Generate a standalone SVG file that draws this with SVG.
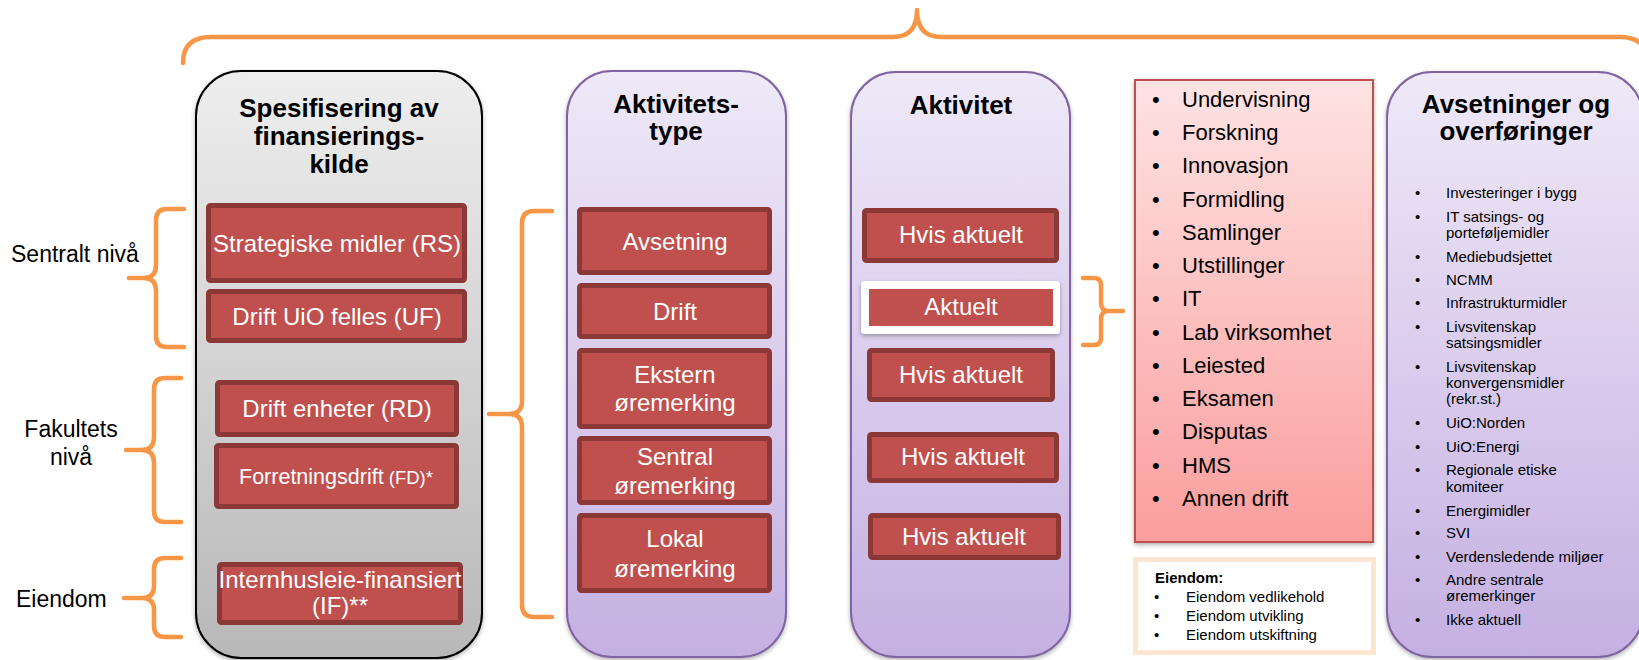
<svg xmlns="http://www.w3.org/2000/svg" width="1639" height="660" viewBox="0 0 1639 660">
<defs>
<linearGradient id="gGray" x1="0" y1="0" x2="0" y2="1"><stop offset="0" stop-color="#eeeeee"/><stop offset="1" stop-color="#b8b8b8"/></linearGradient>
<linearGradient id="gPurple" x1="0" y1="0" x2="0" y2="1"><stop offset="0" stop-color="#efe9f8"/><stop offset="1" stop-color="#c5b0e2"/></linearGradient>
<linearGradient id="gPink" x1="0" y1="0" x2="0" y2="1"><stop offset="0" stop-color="#fee3e3"/><stop offset="1" stop-color="#fa9e9d"/></linearGradient>
<filter id="sh" x="-10%" y="-10%" width="120%" height="120%"><feDropShadow dx="0" dy="2" stdDeviation="2" flood-color="#000" flood-opacity="0.3"/></filter>
<style>
.brace{fill:none;stroke:#f79646;stroke-width:4.5;stroke-linecap:round;stroke-linejoin:round}
.col1{fill:url(#gGray);stroke:#000;stroke-width:2}
.colp{fill:url(#gPurple);stroke:#8064a2;stroke-width:2}
.rb{fill:#c0504d;stroke:#8c3836;stroke-width:5}
.rt{font-family:"Liberation Sans",Arial,sans-serif;font-size:24px;fill:#fff;text-anchor:middle}
.title{font-family:"Liberation Sans",Arial,sans-serif;font-size:26px;font-weight:bold;fill:#000;text-anchor:middle}
.lbl{font-family:"Liberation Sans",Arial,sans-serif;font-size:23px;fill:#000}
.li{font-family:"Liberation Sans",Arial,sans-serif;font-size:22px;fill:#000}
.ls{font-family:"Liberation Sans",Arial,sans-serif;font-size:15px;fill:#000}
</style>
</defs>
<rect width="1639" height="660" fill="#fff"/>

<g id="connectors">
<path class="brace" d="M183,63 Q183,37 211,37 H893 Q917,37 917,10 Q917,37 941,37 H1620 Q1646,37 1650,62"/>
<path class="brace" d="M184,209 H167 Q156,209 156,220 V265 Q156,278 144,278 H129 H144 Q156,278 156,291 V336 Q156,347 167,347 H184"/>
<path class="brace" d="M181,378 H165 Q154,378 154,389 V437 Q154,450 142,450 H126 H142 Q154,450 154,463 V511 Q154,522 165,522 H181"/>
<path class="brace" d="M181,558 H165 Q154,558 154,569 V586 Q154,598 142,598 H124 H142 Q154,598 154,610 V626 Q154,637 165,637 H181"/>
<path class="brace" d="M552,211 H534 Q522,211 522,223 V401 Q522,414 509,414 H489 H509 Q522,414 522,427 V605 Q522,617 534,617 H552"/>
<path class="brace" d="M1083,278 H1094 Q1101,278 1101,285 V303 Q1101,311 1109,311 H1123 H1109 Q1101,311 1101,319 V338 Q1101,345 1094,345 H1083"/>
</g>

<g id="labels">
<text class="lbl" x="11" y="262">Sentralt nivå</text>
<text class="lbl" x="71" y="437" text-anchor="middle">Fakultets</text>
<text class="lbl" x="71" y="465" text-anchor="middle">nivå</text>
<text class="lbl" x="16" y="607">Eiendom</text>
</g>

<g id="col-finansieringskilde">
<rect class="col1" x="196" y="71" width="286" height="587" rx="45" filter="url(#sh)"/>
<text class="title" x="339" y="117">Spesifisering av</text>
<text class="title" x="339" y="145">finansierings-</text>
<text class="title" x="339" y="173">kilde</text>
<g id="rs"><rect class="rb" x="208.5" y="205.5" width="256" height="75" rx="2"/><text class="rt" x="337" y="252">Strategiske midler (RS)</text></g>
<g id="uf"><rect class="rb" x="208.5" y="291.5" width="256" height="49" rx="2"/><text class="rt" x="337" y="325">Drift UiO felles (UF)</text></g>
<g id="rd"><rect class="rb" x="217.5" y="382.5" width="239" height="52" rx="2"/><text class="rt" x="337" y="417">Drift enheter (RD)</text></g>
<g id="fd"><rect class="rb" x="216.5" y="445.5" width="240" height="61" rx="2"/><text class="rt" x="336" y="484"><tspan font-size="21.5">Forretningsdrift</tspan><tspan font-size="18.5"> (FD)*</tspan></text></g>
<g id="if"><rect class="rb" x="219.5" y="564.5" width="241" height="58" rx="2"/><text class="rt" x="340" y="588" font-size="20.5">Internhusleie-finansiert</text><text class="rt" x="340" y="614" font-size="20.5">(IF)**</text></g>
</g>

<g id="col-aktivitetstype">
<rect class="colp" x="567" y="71" width="219" height="586" rx="45" filter="url(#sh)"/>
<text class="title" x="676" y="113">Aktivitets-</text>
<text class="title" x="676" y="140">type</text>
<g id="avsetning"><rect class="rb" x="579.5" y="209.5" width="190" height="63" rx="2"/><text class="rt" x="675" y="250">Avsetning</text></g>
<g id="drift"><rect class="rb" x="579.5" y="285.5" width="190" height="51" rx="2"/><text class="rt" x="675" y="320">Drift</text></g>
<g id="ekstern"><rect class="rb" x="579.5" y="350.5" width="190" height="76" rx="2"/><text class="rt" x="675" y="383">Ekstern</text><text class="rt" x="675" y="411">øremerking</text></g>
<g id="sentral"><rect class="rb" x="579.5" y="438.5" width="190" height="64" rx="2"/><text class="rt" x="675" y="465">Sentral</text><text class="rt" x="675" y="494">øremerking</text></g>
<g id="lokal"><rect class="rb" x="579.5" y="515.5" width="190" height="75" rx="2"/><text class="rt" x="675" y="547">Lokal</text><text class="rt" x="675" y="577">øremerking</text></g>
</g>

<g id="col-aktivitet">
<rect class="colp" x="851" y="72" width="219" height="585" rx="45" filter="url(#sh)"/>
<text class="title" x="961" y="114">Aktivitet</text>
<g id="hvis1"><rect class="rb" x="864.5" y="210.5" width="192" height="50" rx="2"/><text class="rt" x="961" y="243">Hvis aktuelt</text></g>
<g id="aktuelt"><rect x="861" y="281" width="199" height="53" rx="4" fill="#fff" filter="url(#sh)"/><rect x="869" y="289" width="184" height="37" fill="#c0504d"/><text class="rt" x="961" y="315">Aktuelt</text></g>
<g id="hvis2"><rect class="rb" x="869.5" y="350.5" width="183" height="49" rx="2"/><text class="rt" x="961" y="383">Hvis aktuelt</text></g>
<g id="hvis3"><rect class="rb" x="869.5" y="434.5" width="187" height="46" rx="2"/><text class="rt" x="963" y="465">Hvis aktuelt</text></g>
<g id="hvis4"><rect class="rb" x="870.5" y="515.5" width="188" height="42" rx="2"/><text class="rt" x="964" y="545">Hvis aktuelt</text></g>
</g>

<g id="aktivitetsliste">
<rect x="1135" y="80" width="238" height="462" fill="url(#gPink)" stroke="#c0504d" stroke-width="2" filter="url(#sh)"/>
<g class="li">
<text x="1152" y="107">•</text><text x="1182" y="107">Undervisning</text>
<text x="1152" y="140">•</text><text x="1182" y="140">Forskning</text>
<text x="1152" y="173">•</text><text x="1182" y="173">Innovasjon</text>
<text x="1152" y="207">•</text><text x="1182" y="207">Formidling</text>
<text x="1152" y="240">•</text><text x="1182" y="240">Samlinger</text>
<text x="1152" y="273">•</text><text x="1182" y="273">Utstillinger</text>
<text x="1152" y="306">•</text><text x="1182" y="306">IT</text>
<text x="1152" y="340">•</text><text x="1182" y="340">Lab virksomhet</text>
<text x="1152" y="373">•</text><text x="1182" y="373">Leiested</text>
<text x="1152" y="406">•</text><text x="1182" y="406">Eksamen</text>
<text x="1152" y="439">•</text><text x="1182" y="439">Disputas</text>
<text x="1152" y="473">•</text><text x="1182" y="473">HMS</text>
<text x="1152" y="506">•</text><text x="1182" y="506">Annen drift</text>
</g>
</g>

<g id="eiendom">
<rect x="1135.5" y="559.5" width="238" height="93" fill="#fff" stroke="#fde5d2" stroke-width="5"/>
<g class="ls">
<text x="1155" y="583" font-weight="bold">Eiendom:</text>
<text x="1154" y="602">•</text><text x="1186" y="602">Eiendom vedlikehold</text>
<text x="1154" y="621">•</text><text x="1186" y="621">Eiendom utvikling</text>
<text x="1154" y="640">•</text><text x="1186" y="640">Eiendom utskiftning</text>
</g>
</g>

<g id="col-avsetninger">
<rect class="colp" x="1387" y="72" width="256" height="585" rx="45" filter="url(#sh)"/>
<text class="title" x="1516" y="113" font-size="23.5">Avsetninger og</text>
<text class="title" x="1516" y="140" font-size="23.5">overføringer</text>
<g class="ls">
<text x="1415" y="198">•</text><text x="1446" y="198">Investeringer i bygg</text>
<text x="1415" y="222">•</text><text x="1446" y="222">IT satsings- og</text><text x="1446" y="238">porteføljemidler</text>
<text x="1415" y="262">•</text><text x="1446" y="262">Mediebudsjettet</text>
<text x="1415" y="285">•</text><text x="1446" y="285">NCMM</text>
<text x="1415" y="308">•</text><text x="1446" y="308">Infrastrukturmidler</text>
<text x="1415" y="332">•</text><text x="1446" y="332">Livsvitenskap</text><text x="1446" y="348">satsingsmidler</text>
<text x="1415" y="372">•</text><text x="1446" y="372">Livsvitenskap</text><text x="1446" y="388">konvergensmidler</text><text x="1446" y="404">(rekr.st.)</text>
<text x="1415" y="428">•</text><text x="1446" y="428">UiO:Norden</text>
<text x="1415" y="452">•</text><text x="1446" y="452">UiO:Energi</text>
<text x="1415" y="475">•</text><text x="1446" y="475">Regionale etiske</text><text x="1446" y="492">komiteer</text>
<text x="1415" y="516">•</text><text x="1446" y="516">Energimidler</text>
<text x="1415" y="538">•</text><text x="1446" y="538">SVI</text>
<text x="1415" y="562">•</text><text x="1446" y="562">Verdensledende miljøer</text>
<text x="1415" y="585">•</text><text x="1446" y="585">Andre sentrale</text><text x="1446" y="601">øremerkinger</text>
<text x="1415" y="625">•</text><text x="1446" y="625">Ikke aktuell</text>
</g>
</g>
</svg>
